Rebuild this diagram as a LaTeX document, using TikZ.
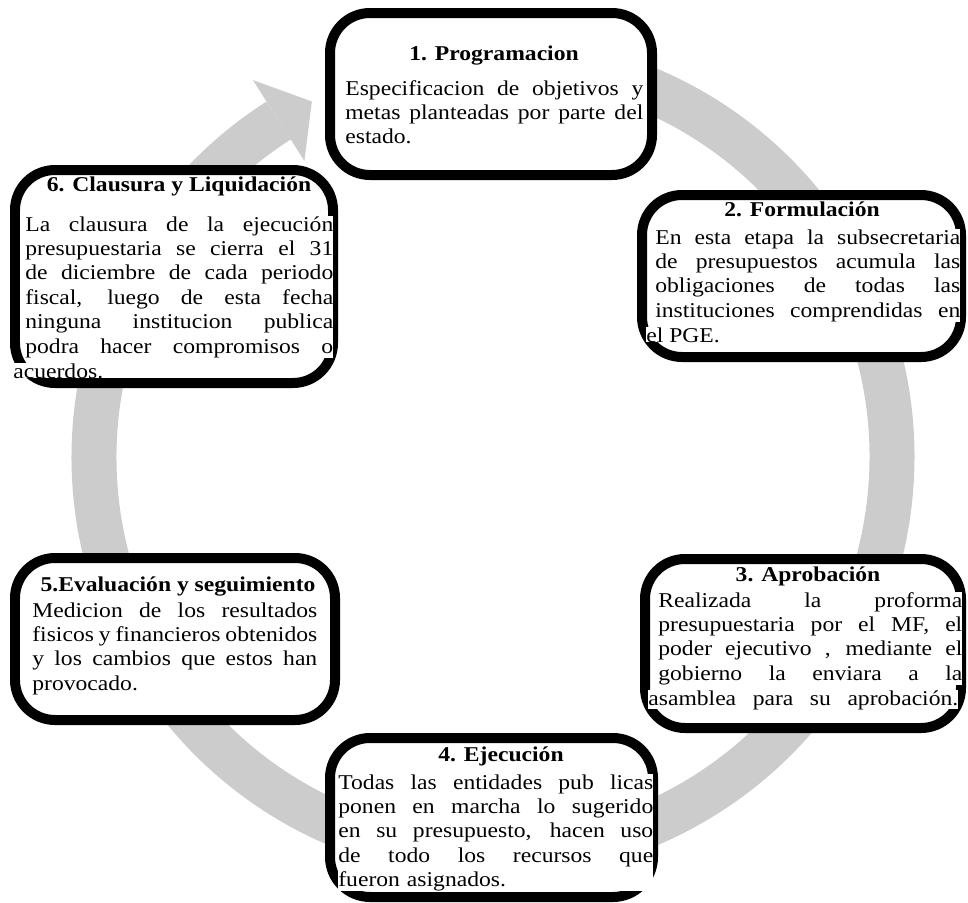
\documentclass[tikz,border=0pt]{standalone}
\usepackage{fontspec}
\setmainfont{Liberation Serif}[FakeStretch=1.12]
\usetikzlibrary{shadows,calc}
\definecolor{ringgray}{RGB}{204,204,204}
\newcommand\stepfont{\fontsize{12pt}{13.9pt}\selectfont}
% one justified line, and a last line
\newcommand\jline[1]{\hbox to\hsize{\spaceskip=0pt\xspaceskip=0pt #1}}
\newcommand\lline[1]{\hbox to\hsize{#1\hfil}}

\tikzset{
  stepbox/.style={draw=black, fill=white, line width=0.2cm, rounded corners=0.8cm,
    drop shadow={shadow xshift=0.04cm, shadow yshift=-0.08cm, fill=black!40}},
  steptitle/.style={anchor=base, inner sep=0pt, font=\stepfont\bfseries},
  steptext/.style={anchor=base west, inner sep=0pt, fill=white, font=\stepfont},
}

\begin{document}
\begin{tikzpicture}[x=0.02cm, y=-0.02cm]
  \useasboundingbox (0,0) rectangle (968,903);
  \coordinate (ctr) at (493,457);

  % ring and its head
  \draw[ringgray, line width=0.9cm]
  ($(ctr)+(-85:399)$) arc[start angle=-85, end angle=237.5, radius=399];
  \fill[ringgray] ($(ctr)+(237.5:447)$) -- ($(ctr)+(243:399)$) -- ($(ctr)+(237.5:351)$) -- cycle;

  % boxes
  \draw[stepbox] (330,13) rectangle (652,175);
  \draw[stepbox] (642,195) rectangle (961,357);
  \draw[stepbox] (645,559) rectangle (961,728);
  \draw[stepbox] (330,738) rectangle (653,897);
  \draw[stepbox] (15,558) rectangle (335,720);
  \draw[stepbox] (15,170) rectangle (333,383);

  \node[steptitle] (t1) at (494,60) {1. Programacion};
  \node[steptext, text width=5.96cm] (b1) at (345,95)
  {\jline{Especificacion de objetivos y}
   \jline{metas planteadas por parte del}
   \lline{estado.}};

  \node[steptitle] (t2) at (802,216) {2. Formulación};
  \node[steptext, text width=6.1cm] (b2) at (655,244)
  {\jline{En esta etapa la subsecretaria}
   \jline{de presupuestos acumula las}
   \jline{obligaciones de todas las}
   \jline{instituciones comprendidas en}};
  \node[steptext] (b2e) at (646,342) {el PGE.};

  \node[steptitle] (t3) at (808,581) {3. Aprobación};
  \node[steptext, text width=6.08cm] (b3) at (658,607)
  {\jline{Realizada la proforma}
   \jline{presupuestaria por el MF, el}
   \jline{poder ejecutivo , mediante el}
   \jline{gobierno la enviara a la}};
  \node[steptext, text width=6.2cm] (b3e) at (648,705)
  {\jline{asamblea para su aprobación.}};

  \node[steptitle] (t4) at (501,761) {4. Ejecución};
  \node[steptext, text width=6.3cm] (b4) at (338,789)
  {\jline{Todas las entidades pub licas}
   \jline{ponen en marcha lo sugerido}
   \jline{en su presupuesto, hacen uso}
   \jline{de todo los recursos que}
   \lline{fueron asignados.}};

  \node[steptitle] (t5) at (178,591) {5.Evaluación y seguimiento};
  \node[steptext, text width=5.7cm] (b5) at (32,617)
  {\jline{Medicion de los resultados}
   \jline{fisicos y financieros obtenidos}
   \jline{y los cambios que estos han}
   \lline{provocado.}};

  \node[steptitle] (t6) at (179,191) {6. Clausura y Liquidación};
  \node[steptext, text width=6.16cm] (b6) at (25,231)
  {\jline{La clausura de la ejecución}
   \jline{presupuestaria se cierra el 31}
   \jline{de diciembre de cada periodo}
   \jline{fiscal, luego de esta fecha}
   \jline{ninguna institucion publica}
   \jline{podra hacer compromisos o}};
  \node[steptext] (b6e) at (13,378) {acuerdos.};
\end{tikzpicture}
\end{document}
